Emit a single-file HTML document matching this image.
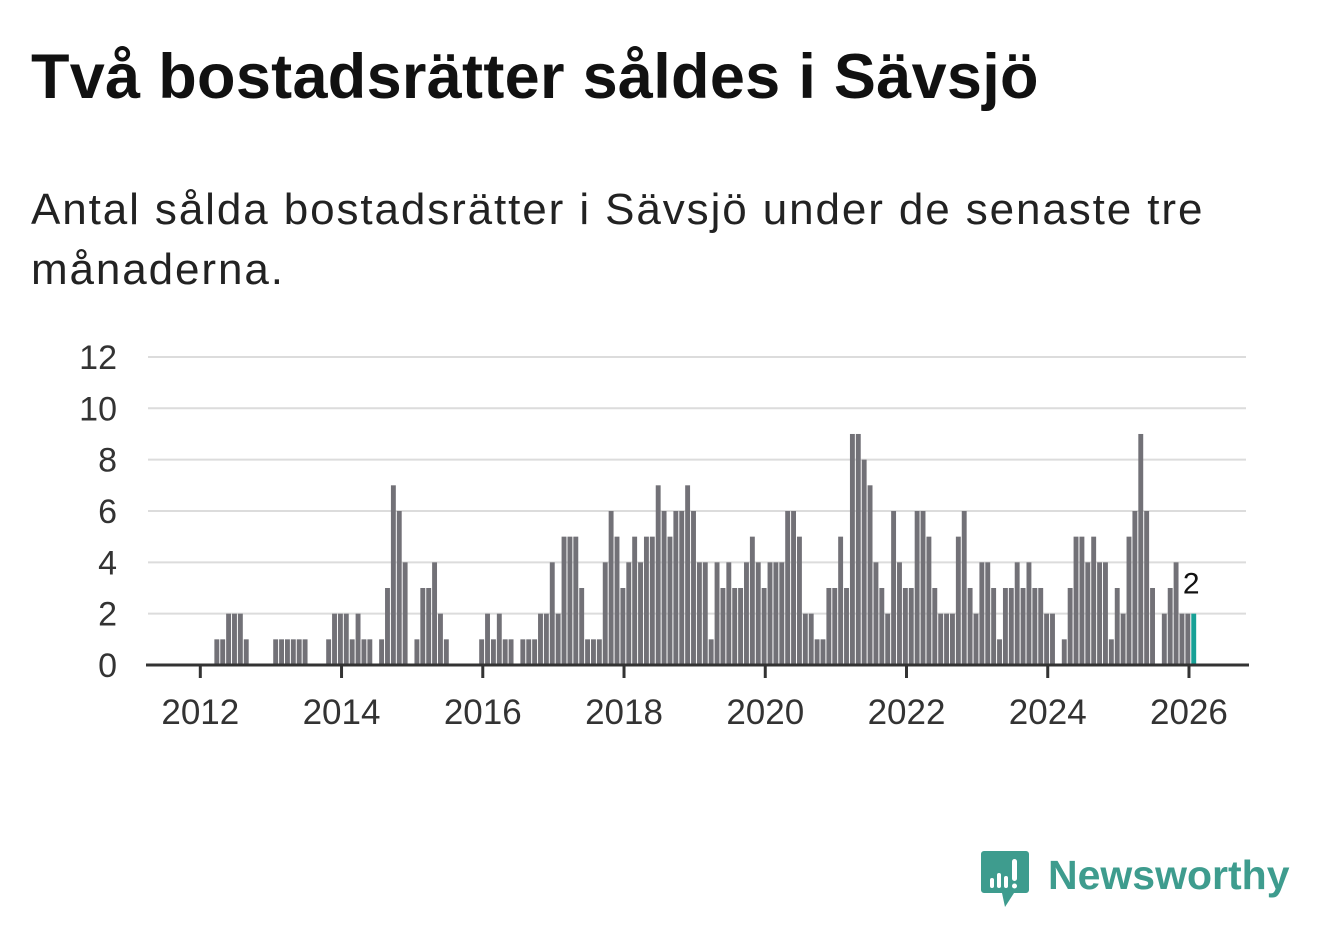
<!DOCTYPE html>
<html><head><meta charset="utf-8">
<style>
body{margin:0;background:#fff;width:1322px;height:939px;overflow:hidden;font-family:"Liberation Sans","DejaVu Sans",sans-serif;}
#title{position:absolute;left:31px;top:41px;font-size:63px;font-weight:bold;color:#111;letter-spacing:0.3px;margin:0;white-space:nowrap;}
#sub{position:absolute;left:31px;top:180px;font-size:44px;color:#222;line-height:60px;width:1280px;margin:0;letter-spacing:1.9px;white-space:nowrap;}
svg{position:absolute;left:0;top:0;}
</style></head><body>
<h1 id="title">Två bostadsrätter såldes i Sävsjö</h1>
<p id="sub">Antal sålda bostadsrätter i Sävsjö under de senaste tre<br>månaderna.</p>
<svg id="chart" width="1322" height="939">
<g id="grid"></g>
<g id="ylab"></g>
<g id="bars"></g>
<g id="xaxis"></g>
<g>
<path d="M984 851 h42 a3 3 0 0 1 3 3 v36 a3 3 0 0 1 -3 3 h-12 l-9 14 l-3 -14 h-18 a3 3 0 0 1 -3 -3 v-36 a3 3 0 0 1 3 -3z" fill="#3e9c8e"/>
<rect x="990" y="878" width="4" height="10" rx="2" fill="#fff"/>
<rect x="997" y="873" width="4" height="15" rx="2" fill="#fff"/>
<rect x="1004" y="876" width="4" height="12" rx="2" fill="#fff"/>
<rect x="1012" y="859" width="5" height="22" rx="2.5" fill="#fff"/>
<circle cx="1014.5" cy="886" r="2.5" fill="#fff"/>
<text x="1048" y="889" font-size="41" fill="#3e9c8e" font-weight="bold">Newsworthy</text>
</g>
</svg>
<script>
// first bar = March 2012 (month index 2 from Jan 2012)
const startMonth = 2;
const values = [1,1,2,2,2,1,0,0,0,0,1,1,1,1,1,1,0,0,0,1,2,2,2,1,2,1,1,0,1,3,7,6,4,0,1,3,3,4,2,1,0,0,0,0,0,1,2,1,2,1,1,0,1,1,1,2,2,4,2,5,5,5,3,1,1,1,4,6,5,3,4,5,4,5,5,7,6,5,6,6,7,6,4,4,1,4,3,4,3,3,4,5,4,3,4,4,4,6,6,5,2,2,1,1,3,3,5,3,9,9,8,7,4,3,2,6,4,3,3,6,6,5,3,2,2,2,5,6,3,2,4,4,3,1,3,3,4,3,4,3,3,2,2,0,1,3,5,5,4,5,4,4,1,3,2,5,6,9,6,3,0,2,3,4,2,2,2];
const yTicks = [0,2,4,6,8,10,12];
const xTickYears = [2012,2014,2016,2018,2020,2022,2024,2026];
const lastLabel = "2";

const NS='http://www.w3.org/2000/svg';
const x0=200.3, mw=5.885;
function xMonth(m){return x0+m*mw;}
function y(v){return 665-v*25.67;}
function mk(tag,attrs,parent){const e=document.createElementNS(NS,tag);for(const k in attrs)e.setAttribute(k,attrs[k]);parent.appendChild(e);return e;}
const grid=document.getElementById('grid'),ylab=document.getElementById('ylab'),bars=document.getElementById('bars'),xa=document.getElementById('xaxis');
yTicks.forEach(t=>{
  if(t>0){const l=mk('line',{x1:148,x2:1246,y1:y(t),y2:y(t),stroke:'#dcdcdc','stroke-width':2},grid);
  
  }
  const tx=mk('text',{x:117,y:y(t)+12,'text-anchor':'end','font-size':34,fill:'#333'},ylab);
  tx.textContent=t;
  
  
});
values.forEach((v,i)=>{
  if(v<=0)return;
  const m=startMonth+i;
  const last=i===values.length-1;
  const r=mk('rect',{x:xMonth(m)+2.3,y:y(v),width:4.9,height:665-y(v),fill:last?'#17a096':'#727177'},bars);
  
  
  if(last){const t=mk('text',{x:xMonth(m)+2.3,y:y(v)-20,'text-anchor':'middle','font-size':30,fill:'#111'},bars);
    t.textContent=lastLabel;
    
    }
});
const ax=mk('line',{x1:146,x2:1249,y1:665,y2:665,stroke:'#333','stroke-width':3},xa);


xTickYears.forEach(yr=>{
  const xx=xMonth((yr-2012)*12);
  const tk=mk('line',{x1:xx,x2:xx,y1:665,y2:678,stroke:'#333','stroke-width':3},xa);
  
  
  const t=mk('text',{x:xx,y:724,'text-anchor':'middle','font-size':35,fill:'#333'},xa);
  t.textContent=yr;
  
  
});
</script>
</body></html>
